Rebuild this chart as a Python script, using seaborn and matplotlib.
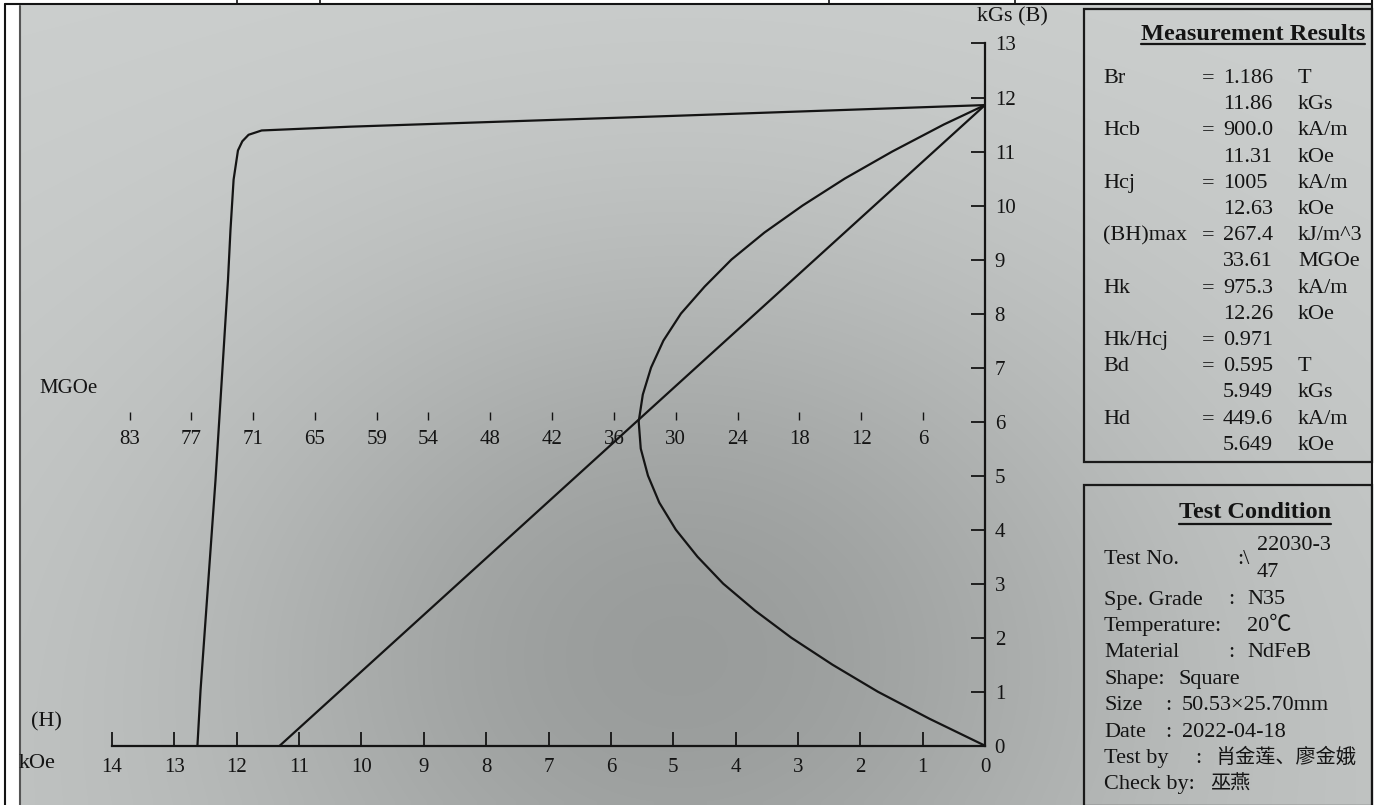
import numpy as np
import pandas as pd
import matplotlib
matplotlib.use("Agg")
import matplotlib.pyplot as plt
from matplotlib.lines import Line2D
from matplotlib.patches import Rectangle
import seaborn as sns

# ------------------------------------------------------------------ data
# axis ticks
h_ticks = list(range(0, 15))          # H, kOe
b_ticks = list(range(0, 14))          # B, kGs

# normal B-H demagnetisation line (H kOe, B kGs)
bh_line_h = [0.0, 11.31]
bh_line_b = [11.86, 0.0]

# intrinsic curve (H kOe, B kGs)
j_h = [0.0, 5.0, 10.18, 11.6, 11.81, 11.91, 11.98, 12.05, 12.10, 12.14,
       12.24, 12.34, 12.58, 12.63]
j_b = [11.86, 11.66, 11.46, 11.39, 11.31, 11.19, 11.02, 10.48, 9.55, 8.62,
       6.77, 4.92, 1.03, 0.0]

# energy-product curve: B (kGs) vs BH (MGOe)
prod_b = [0.0, 0.5, 1.0, 1.5, 2.0, 2.5, 3.0, 3.5, 4.0, 4.5, 5.0, 5.5, 6.0,
          6.5, 7.0, 7.5, 8.0, 8.5, 9.0, 9.5, 10.0, 10.5, 11.0, 11.5, 11.86]
prod_mgoe = [0.0, 5.4, 10.4, 14.8, 18.8, 22.3, 25.4, 27.9, 30.0, 31.6, 32.7,
             33.4, 33.6, 33.2, 32.4, 31.2, 29.5, 27.2, 24.6, 21.4, 17.7, 13.6,
             9.0, 4.0, 0.0]

# MGOe scale labels
mgoe_labels = [83, 77, 71, 65, 59, 54, 48, 42, 36, 30, 24, 18, 12, 6]

# measurement results
meas_names = ["Br", "", "Hcb", "", "Hcj", "", "(BH)max", "", "Hk", "",
              "Hk/Hcj", "Bd", "", "Hd", ""]
meas_values = ["1.186", "11.86", "900.0", "11.31", "1005", "12.63", "267.4",
               "33.61", "975.3", "12.26", "0.971", "0.595", "5.949", "449.6",
               "5.649"]
meas_units = ["T", "kGs", "kA/m", "kOe", "kA/m", "kOe", "kJ/m^3", "MGOe",
              "kA/m", "kOe", "", "T", "kGs", "kA/m", "kOe"]

# test conditions
cond_names = ["Spe. Grade", "Temperature:", "Material", "Shape:", "Size",
              "Date", "Test by", "Check by:"]
cond_values = ["N35", "20℃", "NdFeB", "Square", "50.53×25.70mm",
               "2022-04-18", "肖金莲、廖金娥", "巫燕"]
test_no = ["22030-3", "47"]

# ------------------------------------------------------------------ layout
W, H = 1375, 805
MGOE_PER_KOE = 6.05
LINE = "#141414"

sns.set_style("white")
plt.rcParams["font.family"] = ["Liberation Serif", "Noto Sans CJK SC"]
FAM = ["Liberation Serif", "Noto Sans CJK SC"]

fig = plt.figure(figsize=(W / 100, H / 100), dpi=100)
fig.patch.set_facecolor("white")


def fx(px):
    return px / W


def fy(py):
    return 1 - py / H


# photo-like background
gx, gy = np.meshgrid(np.linspace(19, 1372, 200), np.linspace(5, 805, 120))
v = 207 - 44 * np.exp(-(((gx - 680) / 480) ** 2 + ((gy - 640) / 400) ** 2)) - 8 * (gy / 805)
rgb = np.stack([v - 3, v, v - 1], axis=-1) / 255.0
bg = fig.add_axes([fx(19), 0, fx(1372) - fx(19), fy(5)])
bg.imshow(np.clip(rgb, 0, 1), aspect="auto", interpolation="bilinear")
bg.axis("off")
bg.set_zorder(-5)

# main axes: H=14 at px 112, H=0 at px 985 ; B=0 at py 745.7, B=13 at py 43.5
ax = fig.add_axes([fx(112), fy(745.7), fx(985) - fx(112), fy(43.5) - fy(745.7)])
ax.patch.set_alpha(0)
ax.set_xlim(14, 0)
ax.set_ylim(0, 13)

df_line = pd.DataFrame({"H": bh_line_h, "B": bh_line_b})
df_j = pd.DataFrame({"H": j_h, "B": j_b})
sns.lineplot(data=df_line, x="H", y="B", ax=ax, color=LINE, lw=1.6,
             sort=False, estimator=None)
sns.lineplot(data=df_j, x="H", y="B", ax=ax, color=LINE, lw=1.6,
             sort=False, estimator=None)

for s in ["top", "left"]:
    ax.spines[s].set_visible(False)
for s in ["right", "bottom"]:
    ax.spines[s].set_linewidth(1.6)
    ax.spines[s].set_color(LINE)

ax.set_xticks(h_ticks)
ax.set_xticklabels([str(t) for t in h_ticks])
ax.set_yticks(b_ticks)
ax.set_yticklabels([str(t) for t in b_ticks])
ax.yaxis.tick_right()
ax.tick_params(axis="x", direction="in", length=10, width=1.3, pad=9,
               labelsize=15, colors=LINE)
ax.tick_params(axis="y", direction="in", length=10, width=1.3, pad=7,
               labelsize=15, colors=LINE, left=False, right=True,
               labelleft=False, labelright=True)
ax.set_xlabel("")
ax.set_ylabel("")

# energy product axis (MGOe), shares B
ax2 = ax.twiny()
ax2.patch.set_alpha(0)
ax2.set_xlim(14 * MGOE_PER_KOE, 0)
ax2.set_ylim(0, 13)
df_p = pd.DataFrame({"MGOe": prod_mgoe, "B": prod_b})
sns.lineplot(data=df_p, x="MGOe", y="B", ax=ax2, color=LINE, lw=1.6,
             sort=False, estimator=None)
ax2.vlines(mgoe_labels, 6.03, 6.18, color=LINE, lw=1.0)
for m in mgoe_labels:
    ax2.text(m, 5.66, str(m), ha="center", va="center", fontsize=15,
             color=LINE)
for s in ax2.spines.values():
    s.set_visible(False)
ax2.set_xticks([])
ax2.set_xlabel("")
ax2.set_ylabel("")

# axis captions
fig.text(fx(977), fy(17), "kGs (B)", ha="left", va="center", fontsize=16, color=LINE)
fig.text(fx(39), fy(388), "MGOe", ha="left", va="center", fontsize=15, color=LINE)
fig.text(fx(31), fy(722), "(H)", ha="left", va="center", fontsize=16, color=LINE)
fig.text(fx(19), fy(763), "kOe", ha="left", va="center", fontsize=16, color=LINE)


# frame and header strip
def fline(x0, y0, x1, y1, lw=1.5, color=LINE):
    fig.add_artist(Line2D([fx(x0), fx(x1)], [fy(y0), fy(y1)],
                          transform=fig.transFigure, lw=lw, color=color))


fline(5, 4, 1372, 4)
fline(5, 4, 5, 805)
fline(1372, 0, 1372, 805)
for xv in [237, 320, 829, 1015]:
    fline(xv, 0, xv, 4, lw=1.2)
fline(20, 6, 20, 805, lw=1.5, color="#555555")

# boxes
for (x0, y0, x1, y1) in [(1084, 9, 1372, 462), (1084, 485, 1372, 806)]:
    fig.add_artist(Rectangle((fx(x0), fy(y1)), fx(x1) - fx(x0), fy(y0) - fy(y1),
                             transform=fig.transFigure, fill=False,
                             lw=1.6, ec="#1a1a1a"))

renderer = fig.canvas.get_renderer()


def title(text, cx, base, uy):
    t = fig.text(fx(cx), fy(base), text, ha="center", va="baseline",
                 fontsize=17.5, fontweight="bold", color=LINE)
    bb = t.get_window_extent(renderer=renderer)
    fig.add_artist(Line2D([bb.x0 / W, bb.x1 / W], [fy(uy), fy(uy)],
                          transform=fig.transFigure, lw=1.6, color=LINE))


title("Measurement Results", 1253, 40.5, 44.5)
title("Test Condition", 1255, 518.5, 523.5)

BOX_FS = 16
for i, (n, val, u) in enumerate(zip(meas_names, meas_values, meas_units)):
    yb = 76 + i * 26.2 + 7
    if n:
        fig.text(fx(1103), fy(yb), n, fontsize=BOX_FS, va="baseline", color=LINE)
        fig.text(fx(1202), fy(yb), "=", fontsize=BOX_FS, va="baseline", color=LINE)
    fig.text(fx(1223), fy(yb), val, fontsize=BOX_FS, va="baseline", color=LINE)
    if u:
        fig.text(fx(1298), fy(yb), u, fontsize=BOX_FS, va="baseline", color=LINE)

# test number line
fig.text(fx(1104), fy(564), "Test No.", fontsize=BOX_FS, va="baseline", color=LINE)
fig.text(fx(1237), fy(564), ":\\", fontsize=BOX_FS, va="baseline", color=LINE)
fig.text(fx(1257), fy(550), test_no[0], fontsize=BOX_FS, va="baseline", color=LINE)
fig.text(fx(1257), fy(577), test_no[1], fontsize=BOX_FS, va="baseline", color=LINE)

colon_x = [1228, None, 1228, None, 1165, 1165, 1195, None]
value_x = [1247, 1247, 1247, 1178, 1182, 1182, 1215, 1210]
value_fs = [BOX_FS, BOX_FS, BOX_FS, BOX_FS, BOX_FS, BOX_FS, 14.5, 14.5]
for i, (n, val) in enumerate(zip(cond_names, cond_values)):
    yb = 597 + i * 26.4 + 7.5
    fig.text(fx(1104), fy(yb), n, fontsize=BOX_FS, va="baseline", color=LINE, family=FAM)
    if colon_x[i] is not None:
        fig.text(fx(colon_x[i]), fy(yb), ":", fontsize=BOX_FS, va="baseline", color=LINE)
    fig.text(fx(value_x[i]), fy(yb), val, fontsize=value_fs[i], va="baseline",
             color=LINE, family=FAM)

fig.savefig("out.png", dpi=100)
